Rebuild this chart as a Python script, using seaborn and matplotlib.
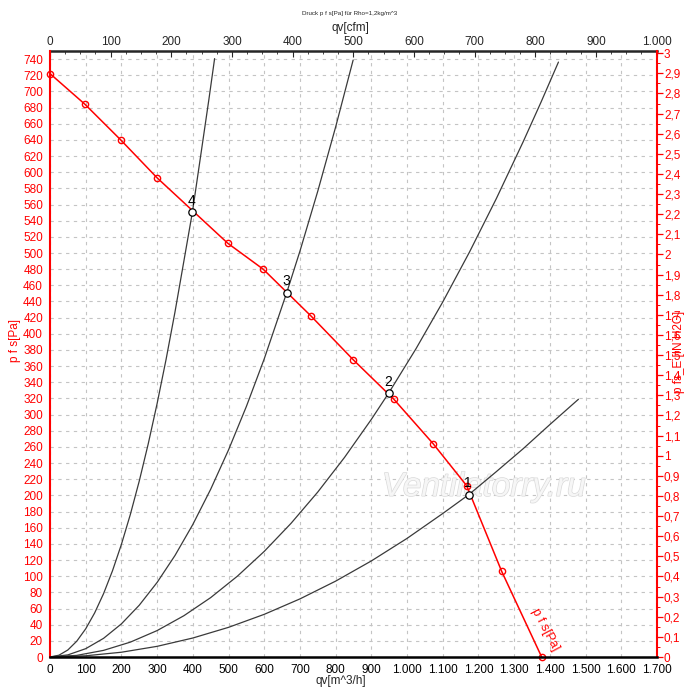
import matplotlib
matplotlib.use("Agg")
import matplotlib.pyplot as plt
import matplotlib.patheffects as pe
import seaborn as sns
from matplotlib.ticker import MultipleLocator, FuncFormatter

# fan curve, p_fs [Pa] over qv [m^3/h]
fan_q = [0, 98, 198, 300, 498, 597, 731, 849, 963, 1073, 1167, 1265, 1377]
fan_p = [722, 684, 640, 593, 512, 480, 422, 368, 319, 264, 212, 106, 0]

# system curves (4 = steepest)
sys4_q = [0, 25, 50, 75, 100, 125, 150, 175, 200, 225, 250, 275, 300, 325, 350, 375, 399,
          425, 445, 461]
sys4_p = [0, 2.2, 8.7, 19.6, 34.9, 54.5, 78.4, 106.7, 139.4, 176.4, 217.8, 263.6, 313.7,
          368.1, 426.9, 490.1, 551, 629.5, 690.1, 740.6]
sys3_q = [0, 50, 100, 150, 200, 250, 300, 350, 400, 450, 500, 550, 600, 663, 700, 750, 800,
          849]
sys3_p = [0, 2.6, 10.3, 23.1, 41.0, 64.1, 92.3, 125.6, 164.0, 207.6, 256.3, 310.1, 369.0,
          451, 502.3, 576.6, 656.0, 738.8]
sys2_q = [0, 75, 150, 225, 300, 375, 450, 525, 600, 675, 750, 825, 900, 949, 1025, 1100,
          1175, 1250, 1325, 1375, 1424]
sys2_p = [0, 2.0, 8.2, 18.4, 32.7, 51.1, 73.5, 100.1, 130.7, 165.4, 204.2, 247.1, 294.1,
          327, 381.5, 439.4, 501.3, 567.3, 637.5, 686.5, 736.3]
sys1_q = [0, 100, 200, 300, 400, 500, 600, 700, 800, 900, 1000, 1100, 1173, 1250, 1325,
          1400, 1480]
sys1_p = [0, 1.5, 5.9, 13.2, 23.5, 36.7, 52.8, 71.9, 93.9, 118.9, 146.8, 177.6, 201, 229.4,
          257.7, 287.7, 319]

# operating points
op_labels = ["1", "2", "3", "4"]
op_q = [1173, 949, 663, 399]
op_p = [201, 327, 451, 551]

PA_PER_INH2O = 249.09
M3H_PER_CFM = 1.699

sns.set_style("white")
plt.rcParams["font.family"] = ["Liberation Sans", "DejaVu Sans"]

RED = "#ff0000"

fig = plt.figure(figsize=(7, 6.99), dpi=100)
ax = fig.add_axes([50 / 700, 42 / 699, 607 / 700, 606 / 699])
ax.set_xlim(0, 1700)
ax.set_ylim(0, 750)

# grid
ax.xaxis.set_major_locator(MultipleLocator(100))
ax.xaxis.set_minor_locator(MultipleLocator(50))
ax.yaxis.set_major_locator(MultipleLocator(20))
ax.yaxis.set_minor_locator(MultipleLocator(5))
ax.grid(True, which="major", color="#c4c4c4", lw=0.8, dashes=(3, 4))

ax.text(0.715, 0.28, "Ventilatorry.ru", transform=ax.transAxes, fontsize=24,
        style="italic", color="#f6f6f6", ha="center", va="center", zorder=1,
        path_effects=[pe.withStroke(linewidth=1.0, foreground="#dadada")])

for q, p in [(sys1_q, sys1_p), (sys2_q, sys2_p), (sys3_q, sys3_p), (sys4_q, sys4_p)]:
    sns.lineplot(x=q, y=p, sort=False, estimator=None, color="#3a3a3a", lw=0.9, ax=ax)

sns.lineplot(x=fan_q, y=fan_p, sort=False, estimator=None, color=RED, lw=1.1,
             marker="o", markersize=4.5, markerfacecolor="none", markeredgecolor=RED,
             markeredgewidth=1.0, ax=ax, clip_on=False)

ax.scatter(op_q, op_p, s=28, facecolor="white", edgecolor="black", lw=0.9, zorder=5)
for lab, q, p in zip(op_labels, op_q, op_p):
    ax.annotate(lab, (q, p), xytext=(-0.5, 3), textcoords="offset points",
                ha="center", va="bottom", fontsize=10, color="black")

ax.text(0.815, 0.045, "p f s[Pa]", transform=ax.transAxes, rotation=-62, color=RED,
        fontsize=9, ha="center", va="center", rotation_mode="anchor")

# spines / ticks
for s in ["top", "right"]:
    ax.spines[s].set_visible(False)
ax.spines["bottom"].set_color("black")
ax.spines["bottom"].set_linewidth(1.8)
ax.spines["left"].set_color(RED)
ax.spines["left"].set_linewidth(1.5)

thousands = FuncFormatter(lambda v, _: f"{int(round(v)):,}".replace(",", "."))
ax.xaxis.set_major_formatter(thousands)
ax.tick_params(axis="x", which="major", direction="out", length=3, width=0.8,
               labelsize=8.5, pad=2, colors="black")
ax.tick_params(axis="x", which="minor", direction="out", length=2, width=0.6)
ax.tick_params(axis="y", which="major", direction="out", length=4, width=0.9,
               labelsize=8.5, pad=1, colors=RED)
ax.tick_params(axis="y", which="minor", direction="out", length=2, width=0.7, colors=RED)

top = ax.secondary_xaxis("top", functions=(lambda q: q / M3H_PER_CFM, lambda c: c * M3H_PER_CFM))
top.xaxis.set_major_locator(MultipleLocator(100))
top.xaxis.set_minor_locator(MultipleLocator(25))
top.xaxis.set_major_formatter(thousands)
top.spines["top"].set_linewidth(1.8)
top.tick_params(which="major", direction="in", length=4, width=0.8, labelsize=8.5, pad=2)
top.tick_params(which="minor", direction="in", length=2, width=0.6)

right = ax.secondary_yaxis("right", functions=(lambda p: p / PA_PER_INH2O, lambda h: h * PA_PER_INH2O))
right.yaxis.set_major_locator(MultipleLocator(0.1))
right.yaxis.set_minor_locator(MultipleLocator(0.05))
right.yaxis.set_major_formatter(FuncFormatter(
    lambda v, _: (f"{v:.1f}"[:-2] if abs(v - round(v)) < 1e-6 else f"{v:.1f}").replace(".", ",")))
right.spines["right"].set_color(RED)
right.spines["right"].set_linewidth(1.5)
right.tick_params(which="major", direction="out", length=4, width=0.9, labelsize=8.5,
                  pad=1, colors=RED)
right.tick_params(which="minor", direction="out", length=2, width=0.7, colors=RED)

# axis titles
fig.text(350 / 700, 1 - 14 / 699, "Druck p f s[Pa] für Rho=1,2kg/m^3", fontsize=4.5,
         ha="center", va="center")
fig.text(350 / 700, 1 - 28 / 699, "qv[cfm]", fontsize=8.5, ha="center", va="center")
fig.text(341 / 700, 1 - 681 / 699, "qv[m^3/h]", fontsize=8.5, ha="center", va="center")
fig.text(15 / 700, 1 - 340 / 699, "p f s[Pa]", fontsize=8.5, color=RED, rotation=90,
         ha="center", va="center")
fig.text(679 / 700, 1 - 352 / 699, "p fs_E [IN H2O]", fontsize=8.5, color=RED, rotation=90,
         ha="center", va="center")

fig.savefig("out.png", dpi=100)
